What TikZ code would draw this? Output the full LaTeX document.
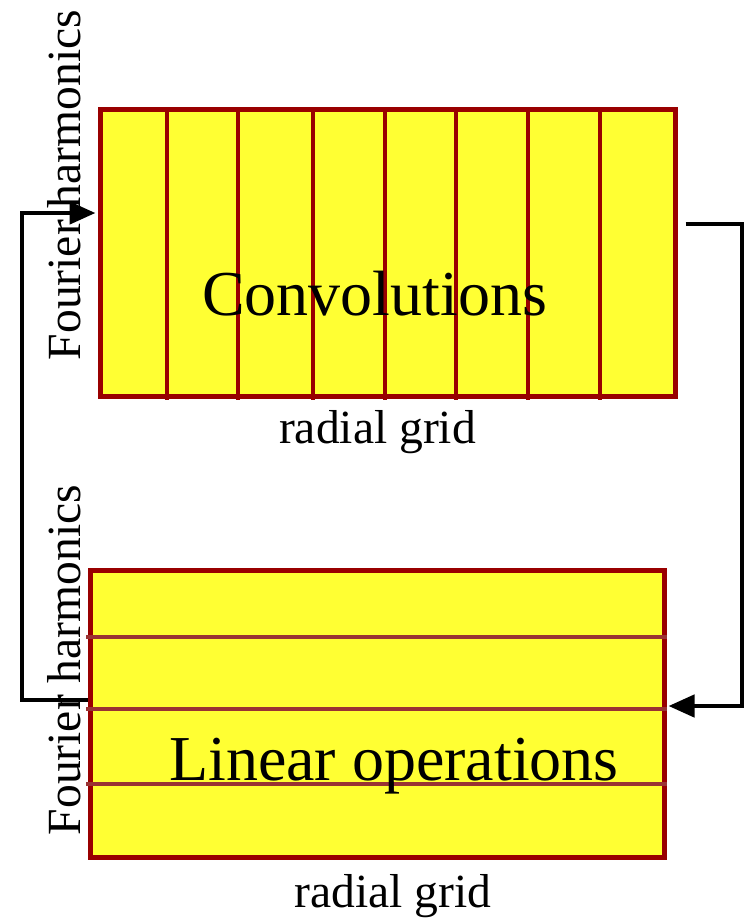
\documentclass[tikz,border=0pt]{standalone}
\usepackage{fontspec}
\setmainfont{Liberation Serif}
\usetikzlibrary{arrows.meta}
\definecolor{boxfill}{HTML}{FFFF33}
\definecolor{boxline}{HTML}{990000}
\definecolor{gridline}{HTML}{993333}
\tikzset{
  box/.style={draw=boxline, fill=boxfill, line width=5pt, rectangle, inner sep=0pt},
  vline/.style={draw=boxline, line width=4.5pt},
  hline/.style={draw=gridline, line width=4.5pt},
  conn/.style={draw=black, line width=4.5pt, line join=miter},
  tip/.style={-{Triangle[length=26pt,width=22pt]}},
  bigtxt/.style={inner sep=0pt, anchor=base, font=\fontsize{64}{76}\selectfont},
  smalltxt/.style={inner sep=0pt, anchor=base, font=\fontsize{47.6}{57}\selectfont},
}
\begin{document}
\begin{tikzpicture}[x=1pt,y=-1pt]
\useasboundingbox (0,0) rectangle (753,922);
% top box
\node[box, minimum width=575pt, minimum height=287pt] (conv) at (387.5,252.5) {};
\foreach \xx in {167,238,313,385,456,528,600}
  \draw[vline] (\xx,108) -- (\xx,400);
% bottom box
\node[box, minimum width=574pt, minimum height=287pt] (lin) at (377,713.5) {};
\foreach \yy in {637,709,784}
  \draw[hline] (86,\yy) -- (lin.east |- {(0,\yy)});
% labels
\node[bigtxt] (convtxt) at (374.5,315) {Convolutions};
\node[bigtxt] (lintxt) at (394,780) {Linear operations};
\node[smalltxt] (rg1) at (377.5,443) {radial grid};
\node[smalltxt] (rg2) at (393,907) {radial grid};
\node[smalltxt, rotate=90] (fh1) at (80,185) {Fourier harmonics};
\node[smalltxt, rotate=90] (fh2) at (80,660) {Fourier harmonics};
% connectors
\coordinate (lc1) at (22,700);
\coordinate (lc2) at (22,213);
\coordinate (rc1) at (742,224);
\coordinate (rc2) at (742,706);
\draw[conn, tip] (lin.west |- lc1) -- (lc1) -- (lc2) -- ([xshift=-2pt]conv.west |- lc2);
\draw[conn, tip] ([xshift=8pt]conv.east |- rc1) -- (rc1) -- (rc2) -- ([xshift=2pt]lin.east |- rc2);
\end{tikzpicture}
\end{document}
